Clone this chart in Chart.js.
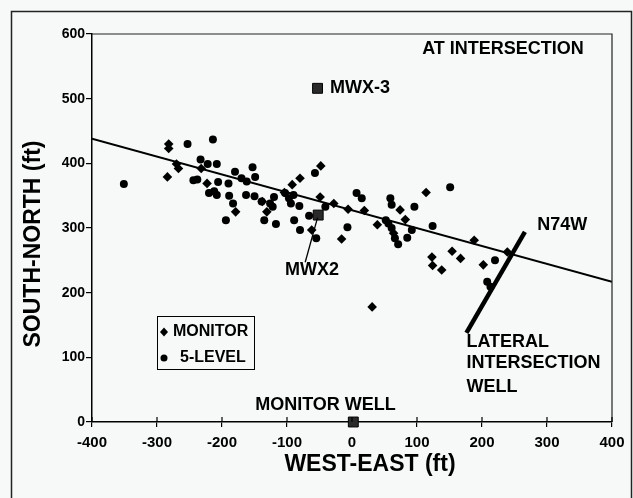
<!DOCTYPE html>
<html>
<head>
<meta charset="utf-8">
<script src="https://cdn.jsdelivr.net/npm/chart.js@4.4.0/dist/chart.umd.min.js"></script>
<style>
  html, body { margin: 0; padding: 0; background: #f7f8f8; }
</style>
</head>
<body>
<canvas id="chart" width="633" height="498"></canvas>
<script>
// MONITOR points (diamonds)
const monitorX = [-282, -282, -284, -270, -267, -232, -223, -179, -138, -131, -104, -92, -80, -48, -49, -28, -16, -6, 19, 31, 39, 74, 82, 114, 123, 124, 138, 154, 167, 188, 202, 239, -62, 64];
const monitorY = [430, 423, 379, 399, 392, 392, 369, 325, 341, 325, 355, 367, 377, 396, 348, 338, 283, 329, 327, 178, 305, 328, 313, 355, 255, 242, 235, 264, 253, 281, 243, 263, 297, 292];

// 5-LEVEL points (circles)
const levelX = [-351, -253, -233, -222, -208, -244, -238, -220, -212, -208, -214, -206, -190, -189, -183, -194, -180, -170, -162, -153, -149, -163, -150, -139, -135, -126, -122, -120, -117, -103, -97, -90, -94, -81, -89, -80, -57, -55, -66, -41, -7, 7, 15, 52, 56, 59, 61, 61, 66, 71, 85, 92, 96, 124, 151, 208, 213, 220];
const levelY = [368, 430, 406, 399, 399, 374, 375, 354, 357, 351, 437, 371, 369, 350, 338, 312, 387, 377, 372, 394, 379, 351, 349, 341, 312, 338, 333, 348, 306, 354, 346, 351, 338, 334, 312, 297, 385, 284, 319, 333, 301, 354, 346, 312, 307, 346, 336, 300, 284, 275, 285, 297, 333, 303, 363, 217, 209, 250];

// wells: MWX-3, MWX2, monitor well
const wellX = [-53, -52, 2];
const wellY = [516, 320, 0];

// N74W trend line and lateral intersection well
const trendX = [-400, 400];
const trendY = [438, 217];
const lateralX = [176, 266];
const lateralY = [138, 294];
const pointerX = [-72, -53];
const pointerY = [247, 316];

const xTickValues = [-400, -300, -200, -100, 0, 100, 200, 300, 400];
const yTickValues = [0, 100, 200, 300, 400, 500, 600];

const FONT = '"Liberation Sans", Arial, sans-serif';

function pts(xs, ys) {
    return xs.map((x, i) => ({ x: x, y: ys[i] }));
}

const labels = [
    { text: 'AT INTERSECTION', x: 108, y: 576 },
    { text: 'MWX-3', x: -34, y: 516 },
    { text: 'MWX2', x: -103, y: 235 },
    { text: 'N74W', x: 285, y: 305 },
    { text: 'LATERAL', x: 176, y: 123 },
    { text: 'INTERSECTION', x: 176, y: 91 },
    { text: 'WELL', x: 176, y: 54 },
    { text: 'MONITOR WELL', x: -149, y: 26 }
];

const decorations = {
    id: 'decorations',
    beforeDraw(chart) {
        const { ctx, width, height } = chart;
        ctx.save();
        ctx.fillStyle = '#f7f8f8';
        ctx.fillRect(0, 0, width, height);
        ctx.restore();
    },
    afterDraw(chart) {
        const { ctx, chartArea: a, scales } = chart;
        const xs = scales.x, ys = scales.y;
        ctx.save();
        // outer frame
        ctx.strokeStyle = '#222';
        ctx.lineWidth = 1.5;
        ctx.strokeRect(11.5, 11.5, 620, 490);
        // top and right plot borders
        ctx.lineWidth = 1.2;
        ctx.beginPath();
        ctx.moveTo(a.left, a.top);
        ctx.lineTo(a.right, a.top);
        ctx.lineTo(a.right, a.bottom);
        ctx.stroke();
        // inner part of x ticks
        ctx.strokeStyle = '#000';
        xTickValues.forEach(v => {
            const px = xs.getPixelForValue(v);
            ctx.beginPath();
            ctx.moveTo(px, a.bottom);
            ctx.lineTo(px, a.bottom - 5);
            ctx.stroke();
        });
        // axis titles
        ctx.fillStyle = '#000';
        ctx.font = 'bold 23px ' + FONT;
        ctx.textAlign = 'center';
        ctx.textBaseline = 'middle';
        ctx.fillText('WEST-EAST (ft)', 370, 465);
        ctx.save();
        ctx.translate(34, 244);
        ctx.rotate(-Math.PI / 2);
        ctx.fillText('SOUTH-NORTH (ft)', 0, 0);
        ctx.restore();
        // text labels
        ctx.font = 'bold 18px ' + FONT;
        ctx.textAlign = 'left';
        labels.forEach(l => {
            ctx.fillText(l.text, xs.getPixelForValue(l.x), ys.getPixelForValue(l.y));
        });
        // legend box
        const lx = a.left + 65, ly = a.top + 282;
        ctx.lineWidth = 1;
        ctx.strokeStyle = '#000';
        ctx.strokeRect(lx + 0.5, ly + 0.5, 97, 53);
        ctx.font = 'bold 16px ' + FONT;
        ctx.fillText('MONITOR', lx + 16, ly + 16);
        ctx.fillText('5-LEVEL', lx + 23, ly + 42);
        ctx.beginPath();
        ctx.moveTo(lx + 7, ly + 11.5);
        ctx.lineTo(lx + 11, ly + 16);
        ctx.lineTo(lx + 7, ly + 20.5);
        ctx.lineTo(lx + 3, ly + 16);
        ctx.closePath();
        ctx.fill();
        ctx.beginPath();
        ctx.arc(lx + 7, ly + 42, 3.5, 0, Math.PI * 2);
        ctx.fill();
        ctx.restore();
    }
};

new Chart(document.getElementById('chart').getContext('2d'), {
    type: 'scatter',
    data: {
        datasets: [
            {
                label: 'N74W',
                data: pts(trendX, trendY),
                showLine: true,
                borderColor: '#000',
                borderWidth: 2,
                pointRadius: 0
            },
            {
                label: 'Lateral intersection well',
                data: pts(lateralX, lateralY),
                showLine: true,
                borderColor: '#000',
                borderWidth: 4.5,
                pointRadius: 0
            },
            {
                label: 'MWX2 pointer',
                data: pts(pointerX, pointerY),
                showLine: true,
                borderColor: '#000',
                borderWidth: 1.3,
                pointRadius: 0
            },
            {
                label: 'MONITOR',
                data: pts(monitorX, monitorY),
                pointStyle: 'rectRot',
                pointRadius: 4.8,
                backgroundColor: '#000',
                borderColor: '#000',
                borderWidth: 0
            },
            {
                label: '5-LEVEL',
                data: pts(levelX, levelY),
                pointStyle: 'circle',
                pointRadius: 4,
                backgroundColor: '#000',
                borderColor: '#000',
                borderWidth: 0
            },
            {
                label: 'Wells',
                data: pts(wellX, wellY),
                pointStyle: 'rect',
                pointRadius: 7,
                backgroundColor: '#2a2a2a',
                borderColor: '#000',
                borderWidth: 1,
                clip: false
            }
        ]
    },
    options: {
        responsive: false,
        animation: false,
        layout: { padding: { top: 34, right: 21, left: 0, bottom: 0 } },
        plugins: {
            legend: { display: false },
            tooltip: { enabled: false }
        },
        scales: {
            x: {
                type: 'linear',
                min: -400,
                max: 400,
                afterFit: s => { s.height = 76; },
                afterBuildTicks: s => { s.ticks = xTickValues.map(v => ({ value: v })); },
                ticks: {
                    color: '#000',
                    padding: 7,
                    font: { family: FONT, size: 15, weight: 'bold' }
                },
                grid: { drawOnChartArea: false, drawTicks: true, tickLength: 5, color: '#000', lineWidth: 1.2 },
                border: { display: true, color: '#000', width: 1.5 }
            },
            y: {
                type: 'linear',
                min: 0,
                max: 600,
                afterFit: s => { s.width = 92; },
                afterBuildTicks: s => { s.ticks = yTickValues.map(v => ({ value: v })); },
                ticks: {
                    color: '#000',
                    padding: 1,
                    font: { family: FONT, size: 14, weight: 'bold' }
                },
                grid: { drawOnChartArea: false, drawTicks: true, tickLength: 6, color: '#000', lineWidth: 1.2 },
                border: { display: true, color: '#000', width: 1.5 }
            }
        }
    },
    plugins: [decorations]
});
</script>
</body>
</html>
